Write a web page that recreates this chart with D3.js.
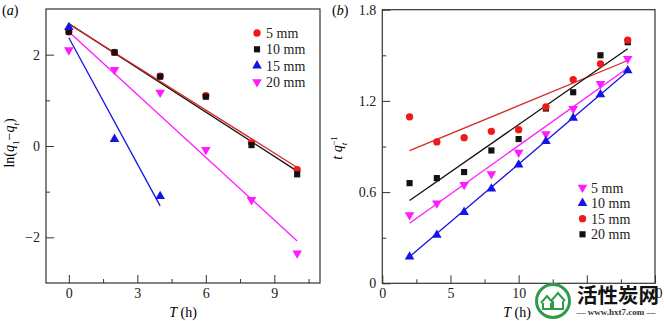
<!DOCTYPE html>
<html>
<head>
<meta charset="utf-8">
<script src="https://cdn.jsdelivr.net/npm/d3@7"></script>
<style>
  body { margin: 0; background: #fff; }
  svg { display: block; font-family: "Liberation Serif", "DejaVu Serif", serif; }
  .axis path, .axis line { stroke: #333; stroke-width: 1; }
  .axis text { font-size: 14px; fill: #222; }
  .legend text { font-size: 14px; fill: #222; }
</style>
</head>
<body>
<svg width="664" height="321"></svg>
<script>
// ---- panel (a): ln(q1 - qt) vs time ----
var timeA = [0, 2, 4, 6, 8, 10];
var timeA15 = [0, 2, 4];
var lnA5 = [2.5, 2.05, 1.53, 1.1, 0.07, -0.52];
var lnA10 = [2.5, 2.05, 1.52, 1.08, 0.02, -0.62];
var lnA15 = [2.6, 0.15, -1.1];
var lnA20 = [2.1, 1.67, 1.17, -0.08, -1.18, -2.35];
// fitted lines: [intercept, slope, tStart, tEnd]
var fitA5 = [2.67, -0.314, 0, 10];
var fitA10 = [2.68, -0.323, 0, 10];
var fitA15 = [2.37, -0.92, 0, 4];
var fitA20 = [2.5, -0.458, 0, 10];
var ticksAx = [0, 3, 6, 9];
var ticksAy = [-2, 0, 2];

// ---- panel (b): t/qt vs time ----
var timeB = [2, 4, 6, 8, 10, 12, 14, 16, 18];
var tqB5 = [0.45, 0.527, 0.648, 0.719, 0.861, 0.982, 1.149, 1.312, 1.477];
var tqB10 = [0.175, 0.318, 0.468, 0.622, 0.78, 0.934, 1.088, 1.242, 1.40];
var tqB15 = [1.095, 0.93, 0.958, 1.0, 1.011, 1.16, 1.34, 1.444, 1.6];
var tqB20 = [0.659, 0.692, 0.732, 0.874, 0.949, 1.15, 1.257, 1.50, 1.586];
var fitB5 = [0.268, 0.0638, 2, 18];
var fitB10 = [0.0225, 0.07625, 2, 18];
var fitB15 = [0.798, 0.0371, 2, 18];
var fitB20 = [0.42, 0.0624, 2, 18];
var ticksBx = [0, 5, 10, 15, 20];
var ticksBy = [0, 0.6, 1.2, 1.8];

var labels = ['5 mm', '10 mm', '15 mm', '20 mm'];

var svg = d3.select('svg');
var SERIF = '"Liberation Serif", "DejaVu Serif", serif';

var RED = '#f01818', BLACK = '#111', BLUE = '#1414e6', MAGENTA = '#ff1aff';
var RED_LINE = '#d42a2a';

/////////////////////////////////////////////////////////////////////
//                        HELPERS                                  //
/////////////////////////////////////////////////////////////////////
function marker(g, type, color, x, y) {
    var sym = {
        circle: d3.symbol().type(d3.symbolCircle).size(42),
        square: d3.symbol().type(d3.symbolSquare).size(38),
        up: d3.symbol().type(d3.symbolTriangle).size(40),
        down: d3.symbol().type(d3.symbolTriangle).size(40)
    }[type];
    var rot = type === 'down' ? ' rotate(180)' : '';
    g.append('path')
        .attr('d', sym())
        .attr('transform', 'translate(' + [x, y] + ')' + rot)
        .attr('fill', color);
}

function drawFrame(g, xScale, yScale, xTicks, yTicks, xMinor, yMinor, yFmt) {
    var x0 = xScale.range()[0], x1 = xScale.range()[1];
    var y0 = yScale.range()[0], y1 = yScale.range()[1];

    g.append('g')
        .attr('class', 'x axis')
        .attr('transform', 'translate(0,' + y0 + ')')
        .call(d3.axisBottom(xScale).tickValues(xTicks).tickSize(-8).tickPadding(5).tickSizeOuter(0))
        .attr('font-family', SERIF)
        .call(g => g.select('.domain').remove());
    g.append('g')
        .attr('class', 'x axis')
        .attr('transform', 'translate(0,' + y0 + ')')
        .call(d3.axisBottom(xScale).tickValues(xMinor).tickSize(-4).tickFormat('').tickSizeOuter(0))
        .call(g => g.select('.domain').remove());

    g.append('g')
        .attr('class', 'y axis')
        .attr('transform', 'translate(' + x0 + ',0)')
        .call(d3.axisLeft(yScale).tickValues(yTicks).tickSize(-8).tickPadding(6).tickFormat(yFmt).tickSizeOuter(0))
        .attr('font-family', SERIF)
        .call(g => g.select('.domain').remove());
    g.append('g')
        .attr('class', 'y axis')
        .attr('transform', 'translate(' + x0 + ',0)')
        .call(d3.axisLeft(yScale).tickValues(yMinor).tickSize(-4).tickFormat('').tickSizeOuter(0))
        .call(g => g.select('.domain').remove());

    g.append('rect')
        .attr('x', x0).attr('y', y1)
        .attr('width', x1 - x0).attr('height', y0 - y1)
        .attr('fill', 'none')
        .attr('stroke', '#333')
        .attr('stroke-width', 1.2);
}

function drawFit(g, xScale, yScale, fit, color) {
    g.append('line')
        .attr('x1', xScale(fit[2])).attr('y1', yScale(fit[0] + fit[1] * fit[2]))
        .attr('x2', xScale(fit[3])).attr('y2', yScale(fit[0] + fit[1] * fit[3]))
        .attr('stroke', color)
        .attr('stroke-width', 1.3);
}

function drawPoints(g, xScale, yScale, xs, ys, type, color) {
    xs.forEach(function(t, i) { marker(g, type, color, xScale(t), yScale(ys[i])); });
}

var minus = function(d) { return d3.format('')(d).replace('-', '\u2212'); };

/////////////////////////////////////////////////////////////////////
//                        PANEL A                                  //
/////////////////////////////////////////////////////////////////////
var gA = svg.append('g');
var xA = d3.scaleLinear().domain([-1, 11]).range([46, 320]);
var yA = d3.scaleLinear().domain([-3, 3]).range([283, 9]);

drawFrame(gA, xA, yA, ticksAx, ticksAy, [1.5, 4.5, 7.5, 10.5], [-1, 1], minus);

drawFit(gA, xA, yA, fitA10, BLACK);
drawFit(gA, xA, yA, fitA5, RED_LINE);
drawFit(gA, xA, yA, fitA15, BLUE);
drawFit(gA, xA, yA, fitA20, MAGENTA);

drawPoints(gA, xA, yA, timeA, lnA20, 'down', MAGENTA);
drawPoints(gA, xA, yA, timeA, lnA5, 'circle', RED);
drawPoints(gA, xA, yA, timeA, lnA10, 'square', BLACK);
drawPoints(gA, xA, yA, timeA15, lnA15, 'up', BLUE);

var legA = gA.append('g').attr('class', 'legend');
[['circle', RED], ['square', BLACK], ['up', BLUE], ['down', MAGENTA]].forEach(function(m, i) {
    var y = 33 + i * 16.3;
    marker(legA, m[0], m[1], 257, y);
    legA.append('text').attr('x', 266).attr('y', y + 5).text(labels[i]);
});

/////////////////////////////////////////////////////////////////////
//                        PANEL B                                  //
/////////////////////////////////////////////////////////////////////
var gB = svg.append('g');
var xB = d3.scaleLinear().domain([0, 20]).range([382.3, 655]);
var yB = d3.scaleLinear().domain([0, 1.8]).range([283.3, 9.7]);

drawFrame(gB, xB, yB, ticksBx, ticksBy, [2.5, 7.5, 12.5, 17.5], [0.3, 0.9, 1.5],
          function(d) { return d === 0 ? '0' : d3.format('.1f')(d); });

drawFit(gB, xB, yB, fitB15, RED_LINE);
drawFit(gB, xB, yB, fitB20, BLACK);
drawFit(gB, xB, yB, fitB5, MAGENTA);
drawFit(gB, xB, yB, fitB10, BLUE);

drawPoints(gB, xB, yB, timeB, tqB20, 'square', BLACK);
drawPoints(gB, xB, yB, timeB, tqB15, 'circle', RED);
drawPoints(gB, xB, yB, timeB, tqB5, 'down', MAGENTA);
drawPoints(gB, xB, yB, timeB, tqB10, 'up', BLUE);

var legB = gB.append('g').attr('class', 'legend');
[['down', MAGENTA], ['up', BLUE], ['circle', RED], ['square', BLACK]].forEach(function(m, i) {
    var y = 187.5 + i * 15.6;
    marker(legB, m[0], m[1], 582.5, y);
    legB.append('text').attr('x', 591).attr('y', y + 5).text(labels[i]);
});

/////////////////////////////////////////////////////////////////////
//                        TITLES                                   //
/////////////////////////////////////////////////////////////////////
svg.append('text').attr('x', 2).attr('y', 15).style('font-size', '14px')
    .html('(<tspan font-style="italic">a</tspan>)');
svg.append('text').attr('x', 332).attr('y', 15).style('font-size', '14px')
    .html('(<tspan font-style="italic">b</tspan>)');

[183, 517].forEach(function(cx) {
    svg.append('text')
        .attr('x', cx).attr('y', 317)
        .attr('text-anchor', 'middle')
        .style('font-size', '14px')
        .html('<tspan font-style="italic">T</tspan> (h)');
});

svg.append('text')
    .attr('transform', 'translate(14,143) rotate(-90)')
    .attr('text-anchor', 'middle')
    .style('font-size', '14px')
    .html('ln(<tspan font-style="italic">q</tspan><tspan baseline-shift="sub" font-size="9px">1</tspan>\u2212<tspan font-style="italic">q</tspan><tspan baseline-shift="sub" font-size="9px" font-style="italic">t</tspan>)');

svg.append('text')
    .attr('transform', 'translate(342,148) rotate(-90)')
    .attr('text-anchor', 'middle')
    .style('font-size', '14px')
    .html('<tspan font-style="italic">t q</tspan><tspan baseline-shift="sub" font-size="9px" font-style="italic">t</tspan><tspan baseline-shift="super" font-size="9px" dx="-3">\u22121</tspan>');

/////////////////////////////////////////////////////////////////////
//                        SITE MARK                                //
/////////////////////////////////////////////////////////////////////
var mark = svg.append('g');
var GREEN = '#2f9a48';
mark.append('rect').attr('x', 575).attr('y', 286).attr('width', 78).attr('height', 33).attr('fill', '#fff');
mark.append('circle').attr('cx', 553).attr('cy', 301).attr('r', 16.5)
    .attr('fill', '#fff').attr('stroke', GREEN).attr('stroke-width', 3);
mark.append('path')
    .attr('d', 'M541,303 l6,-7 l6,7 m-10,0 v6 h8 v-6 M551,301 l7,-8 l7,8 m-12,0 v8 h10 v-8')
    .attr('fill', 'none').attr('stroke', GREEN).attr('stroke-width', 2);
mark.append('text')
    .attr('x', 577).attr('y', 303)
    .style('font-family', '"Noto Sans CJK SC", sans-serif')
    .style('font-size', '20.5px').style('font-weight', 'bold')
    .attr('fill', '#111')
    .text('活性炭网');
mark.append('text')
    .attr('x', 616).attr('y', 315)
    .attr('text-anchor', 'middle')
    .style('font-size', '9px').style('font-weight', 'bold')
    .attr('fill', '#333')
    .text('— www.hxt7.com —');
</script>
</body>
</html>
